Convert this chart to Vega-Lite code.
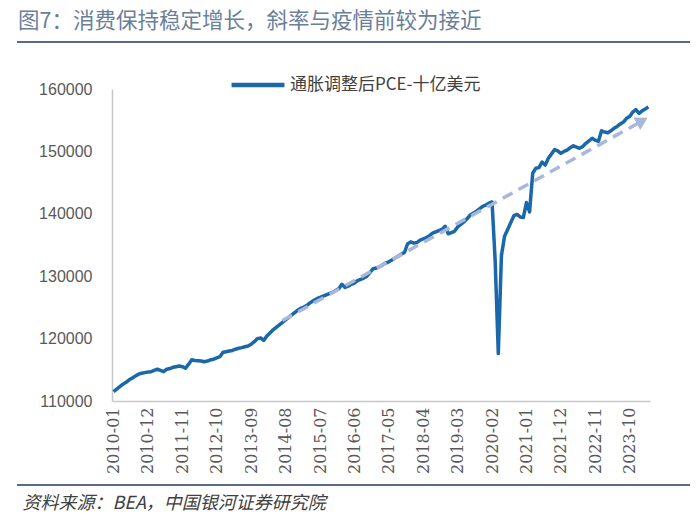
{
  "$schema": "https://vega.github.io/schema/vega-lite/v6.json",
  "width": 538,
  "height": 312,
  "autosize": {"type": "none"},
  "padding": {"left": 112, "top": 89, "right": 50, "bottom": 125},
  "background": "white",
  "title": {
    "text": "图7：消费保持稳定增长，斜率与疫情前较为接近",
    "anchor": "start",
    "frame": "group",
    "dx": -94,
    "offset": 9,
    "font": "Noto Sans CJK SC",
    "fontSize": 21.5,
    "fontWeight": "normal",
    "color": "#6b7f99"
  },
  "config": {
    "view": {"stroke": null},
    "axis": {"grid": false, "ticks": false}
  },
  "datasets": {
    "pce": [
      {"m": "2010-01", "v": 111500}, {"m": "2010-02", "v": 111900}, {"m": "2010-03", "v": 112300}, {"m": "2010-04", "v": 112700},
      {"m": "2010-05", "v": 113000}, {"m": "2010-06", "v": 113400}, {"m": "2010-07", "v": 113700}, {"m": "2010-08", "v": 114000},
      {"m": "2010-09", "v": 114300}, {"m": "2010-10", "v": 114450}, {"m": "2010-11", "v": 114550}, {"m": "2010-12", "v": 114650},
      {"m": "2011-01", "v": 114700}, {"m": "2011-02", "v": 114900}, {"m": "2011-03", "v": 115100}, {"m": "2011-04", "v": 114900},
      {"m": "2011-05", "v": 114700}, {"m": "2011-06", "v": 115100}, {"m": "2011-07", "v": 115200}, {"m": "2011-08", "v": 115400},
      {"m": "2011-09", "v": 115500}, {"m": "2011-10", "v": 115600}, {"m": "2011-11", "v": 115500}, {"m": "2011-12", "v": 115250},
      {"m": "2012-01", "v": 115900}, {"m": "2012-02", "v": 116600}, {"m": "2012-03", "v": 116500}, {"m": "2012-04", "v": 116450},
      {"m": "2012-05", "v": 116400}, {"m": "2012-06", "v": 116300}, {"m": "2012-07", "v": 116400}, {"m": "2012-08", "v": 116600},
      {"m": "2012-09", "v": 116700}, {"m": "2012-10", "v": 116900}, {"m": "2012-11", "v": 117100}, {"m": "2012-12", "v": 117800},
      {"m": "2013-01", "v": 117900}, {"m": "2013-02", "v": 118000}, {"m": "2013-03", "v": 118100}, {"m": "2013-04", "v": 118300},
      {"m": "2013-05", "v": 118450}, {"m": "2013-06", "v": 118550}, {"m": "2013-07", "v": 118700}, {"m": "2013-08", "v": 118800},
      {"m": "2013-09", "v": 119100}, {"m": "2013-10", "v": 119500}, {"m": "2013-11", "v": 120000}, {"m": "2013-12", "v": 120100},
      {"m": "2014-01", "v": 119700}, {"m": "2014-02", "v": 120400}, {"m": "2014-03", "v": 120900}, {"m": "2014-04", "v": 121400},
      {"m": "2014-05", "v": 121800}, {"m": "2014-06", "v": 122200}, {"m": "2014-07", "v": 122600}, {"m": "2014-08", "v": 123000},
      {"m": "2014-09", "v": 123400}, {"m": "2014-10", "v": 123800}, {"m": "2014-11", "v": 124200}, {"m": "2014-12", "v": 124600},
      {"m": "2015-01", "v": 124900}, {"m": "2015-02", "v": 125100}, {"m": "2015-03", "v": 125400}, {"m": "2015-04", "v": 125800},
      {"m": "2015-05", "v": 126100}, {"m": "2015-06", "v": 126400}, {"m": "2015-07", "v": 126600}, {"m": "2015-08", "v": 126800},
      {"m": "2015-09", "v": 127000}, {"m": "2015-10", "v": 127200}, {"m": "2015-11", "v": 127400}, {"m": "2015-12", "v": 127700},
      {"m": "2016-01", "v": 128000}, {"m": "2016-02", "v": 128700}, {"m": "2016-03", "v": 128200}, {"m": "2016-04", "v": 128400},
      {"m": "2016-05", "v": 128700}, {"m": "2016-06", "v": 128900}, {"m": "2016-07", "v": 129300}, {"m": "2016-08", "v": 129500},
      {"m": "2016-09", "v": 129700}, {"m": "2016-10", "v": 130000}, {"m": "2016-11", "v": 130600}, {"m": "2016-12", "v": 131200},
      {"m": "2017-01", "v": 131300}, {"m": "2017-02", "v": 131500}, {"m": "2017-03", "v": 131800}, {"m": "2017-04", "v": 132100},
      {"m": "2017-05", "v": 132300}, {"m": "2017-06", "v": 132600}, {"m": "2017-07", "v": 132900}, {"m": "2017-08", "v": 133200},
      {"m": "2017-09", "v": 133500}, {"m": "2017-10", "v": 133800}, {"m": "2017-11", "v": 135200}, {"m": "2017-12", "v": 135500},
      {"m": "2018-01", "v": 135300}, {"m": "2018-02", "v": 135400}, {"m": "2018-03", "v": 135800}, {"m": "2018-04", "v": 136000},
      {"m": "2018-05", "v": 136200}, {"m": "2018-06", "v": 136500}, {"m": "2018-07", "v": 136900}, {"m": "2018-08", "v": 137100},
      {"m": "2018-09", "v": 137300}, {"m": "2018-10", "v": 137500}, {"m": "2018-11", "v": 138000}, {"m": "2018-12", "v": 136800},
      {"m": "2019-01", "v": 137000}, {"m": "2019-02", "v": 137200}, {"m": "2019-03", "v": 137900}, {"m": "2019-04", "v": 138300},
      {"m": "2019-05", "v": 138700}, {"m": "2019-06", "v": 139200}, {"m": "2019-07", "v": 139800}, {"m": "2019-08", "v": 140100},
      {"m": "2019-09", "v": 140400}, {"m": "2019-10", "v": 140800}, {"m": "2019-11", "v": 141200}, {"m": "2019-12", "v": 141400},
      {"m": "2020-01", "v": 141700}, {"m": "2020-02", "v": 141900}, {"m": "2020-03", "v": 132500}, {"m": "2020-04", "v": 117600},
      {"m": "2020-05", "v": 133300}, {"m": "2020-06", "v": 136400}, {"m": "2020-07", "v": 137500}, {"m": "2020-08", "v": 138600},
      {"m": "2020-09", "v": 139700}, {"m": "2020-10", "v": 139900}, {"m": "2020-11", "v": 139500}, {"m": "2020-12", "v": 139400},
      {"m": "2021-01", "v": 141800}, {"m": "2021-02", "v": 140300}, {"m": "2021-03", "v": 146500}, {"m": "2021-04", "v": 147300},
      {"m": "2021-05", "v": 147400}, {"m": "2021-06", "v": 148300}, {"m": "2021-07", "v": 147800}, {"m": "2021-08", "v": 148900},
      {"m": "2021-09", "v": 149600}, {"m": "2021-10", "v": 150300}, {"m": "2021-11", "v": 150100}, {"m": "2021-12", "v": 149700},
      {"m": "2022-01", "v": 150000}, {"m": "2022-02", "v": 150200}, {"m": "2022-03", "v": 150600}, {"m": "2022-04", "v": 150900},
      {"m": "2022-05", "v": 150700}, {"m": "2022-06", "v": 150500}, {"m": "2022-07", "v": 150800}, {"m": "2022-08", "v": 151300},
      {"m": "2022-09", "v": 151700}, {"m": "2022-10", "v": 152100}, {"m": "2022-11", "v": 151800}, {"m": "2022-12", "v": 151600},
      {"m": "2023-01", "v": 153300}, {"m": "2023-02", "v": 153100}, {"m": "2023-03", "v": 153000}, {"m": "2023-04", "v": 153300},
      {"m": "2023-05", "v": 153700}, {"m": "2023-06", "v": 154000}, {"m": "2023-07", "v": 154400}, {"m": "2023-08", "v": 154700},
      {"m": "2023-09", "v": 155300}, {"m": "2023-10", "v": 155600}, {"m": "2023-11", "v": 156300}, {"m": "2023-12", "v": 156700},
      {"m": "2024-01", "v": 156100}, {"m": "2024-02", "v": 156500}, {"m": "2024-03", "v": 156800}, {"m": "2024-04", "v": 157100}
    ],
    "trend": [
      {"m": "2014-07", "v": 122900},
      {"m": "2024-01", "v": 154600}
    ],
    "head": [
      {"m": "2024-02", "v": 154900}
    ],
    "deco": [
      {"k": "rule"}
    ]
  },
  "encoding": {
    "x": {
      "field": "m",
      "type": "ordinal",
      "scale": {"type": "point", "padding": 0.5},
      "axis": {
        "values": ["2010-01", "2010-12", "2011-11", "2012-10", "2013-09", "2014-08", "2015-07", "2016-06", "2017-05", "2018-04", "2019-03", "2020-02", "2021-01", "2021-12", "2022-11", "2023-10"],
        "labelAngle": -90,
        "labelFont": "DejaVu Serif",
        "labelFontSize": 16,
        "labelColor": "#595959",
        "labelPadding": 6,
        "labelOverlap": false,
        "domainColor": "#c8c8c8",
        "domainWidth": 1.5,
        "title": "资料来源：BEA，中国银河证券研究院",
        "titleX": -90,
        "titleY": 102,
        "titleAnchor": "start",
        "titleAlign": "left",
        "titleBaseline": "middle",
        "titleFont": "Noto Sans CJK SC",
        "titleFontSize": 18,
        "titleFontStyle": "italic",
        "titleFontWeight": "normal",
        "titleColor": "#404040"
      }
    },
    "y": {
      "field": "v",
      "type": "quantitative",
      "scale": {"domain": [110000, 160000], "nice": false, "zero": false},
      "axis": {
        "values": [110000, 120000, 130000, 140000, 150000, 160000],
        "format": "d",
        "title": null,
        "labelFont": "Liberation Sans",
        "labelFontSize": 16,
        "labelColor": "#595959",
        "labelPadding": 20,
        "domainColor": "#c8c8c8",
        "domainWidth": 1.5
      }
    }
  },
  "layer": [
    {
      "data": {"name": "pce"},
      "mark": {"type": "line", "strokeWidth": 3.5, "strokeJoin": "round"},
      "encoding": {
        "color": {
          "datum": "通胀调整后PCE-十亿美元",
          "type": "nominal",
          "scale": {"range": ["#1a67aa"]},
          "legend": {
            "orient": "none",
            "legendX": 117,
            "legendY": -33,
            "title": null,
            "symbolType": "stroke",
            "symbolStrokeWidth": 4.5,
            "symbolSize": 2800,
            "labelFont": "Noto Sans CJK SC",
            "labelFontSize": 17,
            "labelColor": "#404040",
            "labelOffset": 3,
            "labelLimit": 400
          }
        }
      }
    },
    {
      "data": {"name": "trend"},
      "mark": {"type": "line", "color": "#a9b7da", "strokeWidth": 3.5, "strokeDash": [11, 7]}
    },
    {
      "data": {"name": "head"},
      "mark": {"type": "point", "shape": "triangle-up", "filled": true, "color": "#a9b7da", "opacity": 1, "size": 200, "angle": 61}
    },
    {
      "data": {"name": "deco"},
      "mark": {"type": "rule", "color": "#5b6b87", "strokeWidth": 2},
      "encoding": {
        "x": {"value": -95},
        "x2": {"value": 578},
        "y": {"value": -47}
      }
    },
    {
      "data": {"name": "deco"},
      "mark": {"type": "rule", "color": "#5b6b87", "strokeWidth": 2},
      "encoding": {
        "x": {"value": -95},
        "x2": {"value": 578},
        "y": {"value": 396}
      }
    }
  ]
}
